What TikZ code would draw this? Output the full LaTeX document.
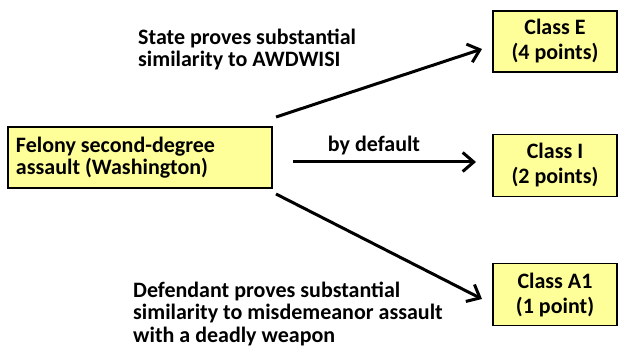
\documentclass[tikz,border=0pt]{standalone}
\usepackage{fontspec}
\setmainfont{Carlito}
\usepackage{xcolor}
\usetikzlibrary{arrows.meta, positioning}

\definecolor{boxyellow}{HTML}{FFFF99}

\begin{document}
\begin{tikzpicture}[x=1pt, y=1pt, >={Straight Barb[length=11pt, width=19pt]},
  lbl/.style={font=\bfseries\fontsize{22}{22.8}\selectfont, align=left, inner sep=0pt},
  box/.style={draw, fill=boxyellow, line width=1.3pt, inner sep=0pt, font=\bfseries\fontsize{22}{25}\selectfont}]

\useasboundingbox (0,0) rectangle (618,348);

% Define boxes
\node[box, minimum width=264pt, minimum height=61pt, align=flush left, text width=248pt,
  font=\bfseries\fontsize{22}{22}\selectfont] (felony) at (140,190.5) {Felony second-degree\\assault (Washington)};
\node[box, minimum width=124pt, minimum height=61pt, align=center] (classE) at (555,306.5) {Class E\\(4 points)};
\node[box, minimum width=124pt, minimum height=62pt, align=center, below=61pt of classE] (classI) {Class I\\(2 points)};
\node[box, minimum width=124pt, minimum height=62pt, align=center, below=66pt of classI] (classA) {Class A1\\(1 point)};

% Arrow ends
\coordinate (upStart) at (276,231);
\coordinate (upEnd) at (482,299);
\coordinate (midStart) at (293,186);
\coordinate (midEnd) at (476,186);
\coordinate (lowStart) at (276,154);
\coordinate (lowEnd) at (482,49);

% Arrows
\draw[->, line width=3pt] (upStart) -- (upEnd);
\draw[->, line width=3pt] (midStart) -- (midEnd);
\draw[->, line width=3pt] (lowStart) -- (lowEnd);

% Conditions
\node[lbl, anchor=north west] (stateLbl) at (138,319.5) {State proves substantial\\similarity to AWDWISI};
\node[lbl, anchor=base] (defaultLbl) at (374,196) {by default};
\node[lbl, anchor=north west] (defLbl) at (133,66.5) {Defendant proves substantial\\similarity to misdemeanor assault\\with a deadly weapon};

\end{tikzpicture}
\end{document}
